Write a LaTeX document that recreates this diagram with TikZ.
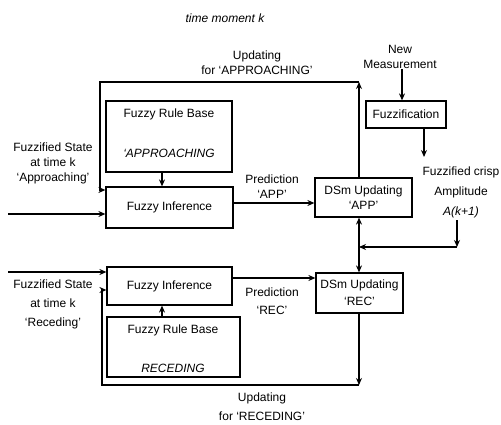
\documentclass[tikz,border=0pt]{standalone}
\usepackage{fontspec}
\setmainfont{Liberation Sans}
\usetikzlibrary{arrows.meta}
\begin{document}
\begin{tikzpicture}[x=1pt,y=-1pt,
  box/.style={draw,line width=1.2pt,inner sep=0pt},
  lbl/.style={font=\fontsize{12}{15}\selectfont,align=center,inner sep=0pt},
  ln/.style={line width=1.2pt},
  arr/.style={ln,-{Stealth[length=7pt,width=6pt]}}]
\useasboundingbox (0,0) rectangle (501,425);
% boxes
\node[box,minimum width=126pt,minimum height=71pt] (rbA) at (169,136.5) {};
\node[box,minimum width=127pt,minimum height=41pt,lbl] (fiA) at (169.5,207.5) {Fuzzy Inference};
\node[box,minimum width=80pt,minimum height=27pt,lbl] (fuzz) at (406,114.5) {Fuzzification};
\node[box,minimum width=97pt,minimum height=39pt,lbl] (dsA) at (363.5,197.5) {DSm Updating\\‘APP’};
\node[box,minimum width=125pt,minimum height=38pt,lbl] (fiR) at (169.5,286) {Fuzzy Inference};
\node[box,minimum width=133pt,minimum height=60pt] (rbR) at (173.5,347) {};
\node[box,minimum width=87pt,minimum height=40pt,lbl,font=\fontsize{12}{17}\selectfont] (dsR) at (359.5,293) {DSm Updating\\‘REC’};
% texts inside rule bases
\node[lbl] (rbAt) at (169,114) {Fuzzy Rule Base};
\node[lbl,font=\fontsize{12}{15}\selectfont\itshape] (rbAb) at (169,153) {‘APPROACHING};
\node[lbl] (rbRt) at (173,330) {Fuzzy Rule Base};
\node[lbl,font=\fontsize{12}{15}\selectfont\itshape] (rbRb) at (173,368) {RECEDING};
% labels
\node[lbl,font=\fontsize{12}{15}\selectfont\itshape] (tm) at (225,18) {time moment k};
\node[lbl] (updA) at (257,63) {Updating\\for ‘APPROACHING’};
\node[lbl] (newm) at (400,57) {New\\Measurement};
\node[lbl] (inA) at (53,163) {Fuzzified State\\at time k\\‘Approaching’};
\node[lbl,font=\fontsize{12}{19}\selectfont] (inR) at (53,304) {Fuzzified State\\at time k\\‘Receding’};
\node[lbl] (prA) at (272,187) {Prediction\\‘APP’};
\node[lbl,font=\fontsize{12}{18}\selectfont] (prR) at (272,301) {Prediction\\‘REC’};
\node[lbl,font=\fontsize{12}{20}\selectfont] (amp) at (461,192) {Fuzzified crisp\\Amplitude\\\textit{A(k+1)}};
\node[lbl,font=\fontsize{12}{19}\selectfont] (updR) at (262,407) {Updating\\for ‘RECEDING’};
% coordinates
\coordinate (J) at (359,247);
\coordinate (TR) at (359,82);
\coordinate (TL) at (100,82);
\coordinate (BR) at (359,385);
\coordinate (BL) at (102,385);
\coordinate (inAs) at (8,214);
\coordinate (inRs) at (8,272);
\coordinate (ampC) at (457,247);
% connectors
\draw[arr] (inAs) -- (inAs -| fiA.west);
\draw[arr] (inRs) -- (inRs -| fiR.west);
\draw[arr] (rbA.south -| 162,0) -- (fiA.north -| 162,0);
\draw[arr] (rbR.north -| 162,0) -- (fiR.south -| 162,0);
\draw[arr] (fiA.east |- 0,203) -- (dsA.west |- 0,203);
\draw[arr] (fiR.east |- 0,278) -- (dsR.west |- 0,278);
\draw[arr] (TR |- dsA.north) -- (TR);
\draw[arr] (TR) -- (TL) -- (100,190) -- (fiA.west |- 0,190);
\draw[arr] (BR |- dsR.south) -- (BR);
\draw[arr] (BR) -- (BL) -- (102,290) -- (fiR.west |- 0,290);
\draw[arr] (newm.south -| 402,0) -- (fuzz.north -| 402,0);
\draw[arr] (fuzz.south -| 424,0) -- (424,157);
\draw[arr] (457,220) -- (ampC);
\draw[arr] (ampC) -- (J);
\draw[arr] (J) -- (J |- dsA.south);
\draw[arr] (J) -- (J |- dsR.north);
\end{tikzpicture}
\end{document}
